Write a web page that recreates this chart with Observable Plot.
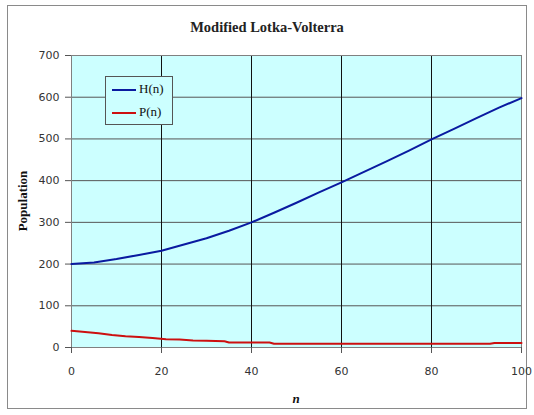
<!DOCTYPE html>
<html>
<head>
<meta charset="utf-8">
<script src="https://cdn.jsdelivr.net/npm/d3@7"></script>
<script src="https://cdn.jsdelivr.net/npm/@observablehq/plot@0.6"></script>
<style>
  body { margin: 0; background: #fff; }
  #wrap { position: relative; width: 534px; height: 415px; overflow: hidden; }
  #border { position: absolute; left: 7px; top: 5px; width: 520px; height: 404px; border: 1px solid #8a8a8a; box-sizing: border-box; }
  #title { position: absolute; left: 0; top: 0; width: 534px; height: 40px; text-align: center; font: bold 14.5px "Liberation Serif", serif; line-height: 54px; color: #222; }
  #chart { position: absolute; left: 0; top: 40px; }
  .lbl { position: absolute; font-family: "Liberation Serif", serif; font-weight: bold; color: #111; }
  #legend { position: absolute; left: 105px; top: 76px; width: 68px; height: 49px; background: #ccffff; border: 1px solid #555; box-sizing: border-box; font: 13px "Liberation Serif", serif; color: #111; }
  .key { position: absolute; left: 6px; width: 24px; height: 0; border-top: 2px solid; }
  .ktxt { position: absolute; left: 33px; line-height: 14px; }
</style>
</head>
<body>
<div id="wrap">
  <div id="border"></div>
  <div id="title">Modified Lotka-Volterra</div>
  <div id="chart"></div>
  <div class="lbl" style="left:0;top:391px;width:592px;text-align:center;font-size:13px;font-style:italic;">n</div>
  <div class="lbl" style="left:-27px;top:193px;width:100px;text-align:center;font-size:13px;transform:rotate(-90deg);">Population</div>
  <div id="legend">
    <div class="key" style="top:12px;border-color:#0a1aa0;"></div><div class="ktxt" style="top:5px;">H(n)</div>
    <div class="key" style="top:35px;border-color:#cc1010;"></div><div class="ktxt" style="top:28px;">P(n)</div>
  </div>
</div>
<script>
const hN = [0,5,10,15,20,25,30,35,40,45,50,55,60,65,70,75,80,85,90,95,100];
const hVal = [200,204,212,222,232,247,262,280,300,323,347,372,396,421,446,472,499,524,550,575,598];
const pN = [0,3,6,9,12,15,18,21,24,27,30,34,35,44,45,93,94,100];
const pVal = [40,37,34,30,27,25,23,20,19,17,16,15,12,12,9,9,11,11];
const xTicks = [0,20,40,60,80,100];
const yTicks = [0,100,200,300,400,500,600,700];
const vGrid = [20,40,60,80];
const hGrid = [100,200,300,400,500,600];

const H = hN.map((n,i) => ({n, v: hVal[i]}));
const P = pN.map((n,i) => ({n, v: pVal[i]}));

const chart = Plot.plot({
  width: 534,
  height: 375,
  marginTop: 15,
  marginBottom: 68,
  marginLeft: 71,
  marginRight: 13,
  x: {domain: [0,100]},
  y: {domain: [0,700]},
  style: {fontFamily: "DejaVu Sans, sans-serif", fontSize: "11px", color: "#333", background: "transparent"},
  marks: [
    Plot.frame({fill: "#ccffff"}),
    Plot.ruleY(hGrid, {stroke: "#555", strokeWidth: 1}),
    Plot.ruleX(vGrid, {stroke: "#111", strokeWidth: 1}),
    Plot.frame({stroke: "#808080"}),
    Plot.axisY({ticks: yTicks, tickSize: 6, tickPadding: 6, label: null, stroke: "#555", fontSize: 11}),
    Plot.axisX({ticks: xTicks, tickSize: 6, tickPadding: 14, label: null, stroke: "#555", fontSize: 11}),
    Plot.line(H, {x: "n", y: "v", stroke: "#0a1aa0", strokeWidth: 2}),
    Plot.line(P, {x: "n", y: "v", stroke: "#cc1010", strokeWidth: 2})
  ]
});
document.getElementById("chart").appendChild(chart);
</script>
</body>
</html>
